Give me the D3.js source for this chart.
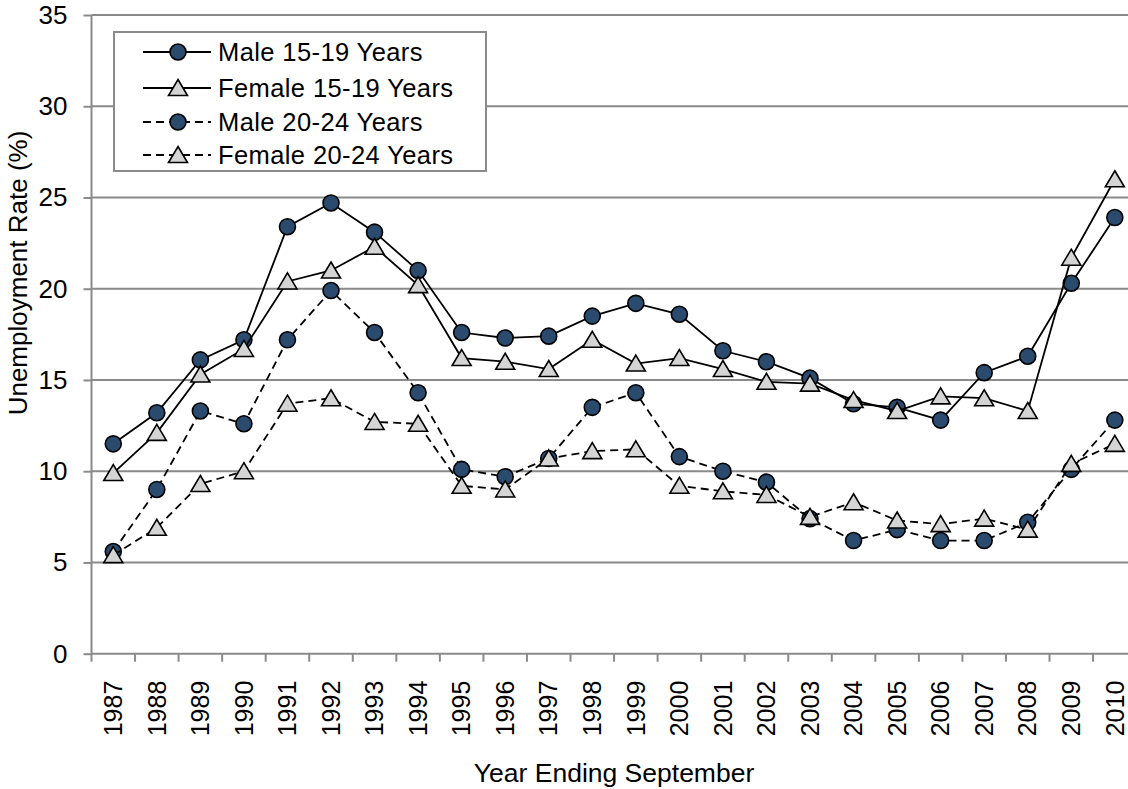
<!DOCTYPE html>
<html>
<head>
<meta charset="utf-8">
<script src="https://cdn.jsdelivr.net/npm/d3@7"></script>
<style>
  html, body { margin: 0; padding: 0; background: #fff; overflow: hidden; }
  svg { display: block; font-family: "Liberation Sans", Arial, sans-serif; }
</style>
</head>
<body>
<svg id="chart" width="1128" height="789"></svg>
<script>
// Unemployment rate (%) by sex and age group, year ending September
const years = ["1987","1988","1989","1990","1991","1992","1993","1994","1995","1996","1997","1998",
               "1999","2000","2001","2002","2003","2004","2005","2006","2007","2008","2009","2010"];
const male1519   = [11.5, 13.2, 16.1, 17.2, 23.4, 24.7, 23.1, 21.0, 17.6, 17.3, 17.4, 18.5,
                    19.2, 18.6, 16.6, 16.0, 15.1, 13.7, 13.5, 12.8, 15.4, 16.3, 20.3, 23.9];
const female1519 = [9.9, 12.1, 15.3, 16.7, 20.4, 21.0, 22.3, 20.2, 16.2, 16.0, 15.6, 17.2,
                    15.9, 16.2, 15.6, 14.9, 14.8, 13.9, 13.3, 14.1, 14.0, 13.3, 21.7, 26.0];
const male2024   = [5.6, 9.0, 13.3, 12.6, 17.2, 19.9, 17.6, 14.3, 10.1, 9.7, 10.7, 13.5,
                    14.3, 10.8, 10.0, 9.4, 7.4, 6.2, 6.8, 6.2, 6.2, 7.2, 10.1, 12.8];
const female2024 = [5.4, 6.9, 9.3, 10.0, 13.7, 14.0, 12.7, 12.6, 9.2, 9.0, 10.7, 11.1,
                    11.2, 9.2, 8.9, 8.7, 7.5, 8.3, 7.3, 7.1, 7.4, 6.8, 10.4, 11.5];
const yTicks = [0, 5, 10, 15, 20, 25, 30, 35];
const seriesNames = ["Male 15-19 Years", "Female 15-19 Years", "Male 20-24 Years", "Female 20-24 Years"];

const series = [
  { name: seriesNames[0], values: male1519,   marker: "circle",   dash: null },
  { name: seriesNames[1], values: female1519, marker: "triangle", dash: null },
  { name: seriesNames[2], values: male2024,   marker: "circle",   dash: "8,5" },
  { name: seriesNames[3], values: female2024, marker: "triangle", dash: "8,5" }
];

// The plot area runs a little past the right edge of the canvas
const plot = { left: 91.5, right: 1136.6, top: 15, bottom: 653.7 };
const gridColor = "#8a8a8a";
const circleFill = "#2a4a6e";
const triFill = "#d4d4d4";

const svg = d3.select("#chart");

const x = d3.scaleBand().domain(years).range([plot.left, plot.right]).padding(0);
const y = d3.scaleLinear().domain([0, 35]).range([plot.bottom, plot.top]);
const cx = d => x(d) + x.bandwidth() / 2;

// Horizontal gridlines
svg.append("g").selectAll("line")
  .data(yTicks.filter(v => v > 0))
  .join("line")
  .attr("x1", plot.left).attr("x2", plot.right)
  .attr("y1", d => y(d)).attr("y2", d => y(d))
  .attr("stroke", gridColor).attr("stroke-width", 2);

// Y axis with outside ticks
const yAxis = svg.append("g")
  .attr("transform", `translate(${plot.left},0)`)
  .call(d3.axisLeft(y).tickValues(yTicks).tickSize(8).tickPadding(16).tickSizeOuter(0));
yAxis.select(".domain").attr("stroke", gridColor).attr("stroke-width", 2)
  .attr("d", `M0,${plot.bottom}V${plot.top}`);
yAxis.selectAll(".tick line").attr("stroke", gridColor).attr("stroke-width", 2);
yAxis.selectAll(".tick text")
  .attr("font-size", 26).attr("fill", "#000")
  .attr("font-family", "'Liberation Sans', Arial, sans-serif");

// X axis: baseline, tick marks between categories, rotated labels
const xg = svg.append("g");
xg.append("line")
  .attr("x1", plot.left).attr("x2", plot.right)
  .attr("y1", plot.bottom).attr("y2", plot.bottom)
  .attr("stroke", gridColor).attr("stroke-width", 2);
const boundaries = years.map(d => x(d)).concat([x(years[years.length - 1]) + x.bandwidth()]);
xg.selectAll("line.tk")
  .data(boundaries)
  .join("line").attr("class", "tk")
  .attr("x1", d => d).attr("x2", d => d)
  .attr("y1", plot.bottom).attr("y2", plot.bottom + 8)
  .attr("stroke", gridColor).attr("stroke-width", 2);
xg.selectAll("text")
  .data(years)
  .join("text")
  .attr("transform", d => `translate(${cx(d)},${plot.bottom + 27}) rotate(-90)`)
  .attr("text-anchor", "end")
  .attr("dy", "0.35em")
  .attr("font-size", 25)
  .attr("fill", "#000")
  .text(d => d);

// Axis titles
svg.append("text")
  .attr("x", (plot.left + plot.right) / 2).attr("y", 782)
  .attr("text-anchor", "middle")
  .attr("font-size", 26.5).attr("fill", "#000")
  .text("Year Ending September");
svg.append("text")
  .attr("transform", "translate(27,273) rotate(-90)")
  .attr("text-anchor", "middle")
  .attr("font-size", 26).attr("fill", "#000")
  .text("Unemployment Rate (%)");

// Marker helpers
const triPath = "M0,-8.5L9.5,7.5L-9.5,7.5Z";
function drawMarker(g, type, px, py) {
  if (type === "circle") {
    g.append("circle").attr("cx", px).attr("cy", py).attr("r", 8)
      .attr("fill", circleFill).attr("stroke", "#000").attr("stroke-width", 1.6);
  } else {
    g.append("path").attr("d", triPath).attr("transform", `translate(${px},${py})`)
      .attr("fill", triFill).attr("stroke", "#000").attr("stroke-width", 1.6);
  }
}

// Series lines and markers
const line = d3.line().x((v, i) => cx(years[i])).y(v => y(v));
series.forEach(s => {
  const g = svg.append("g");
  g.append("path")
    .attr("d", line(s.values))
    .attr("fill", "none").attr("stroke", "#000").attr("stroke-width", 1.8)
    .attr("stroke-dasharray", s.dash);
  s.values.forEach((v, i) => drawMarker(g, s.marker, cx(years[i]), y(v)));
});

// Legend
const leg = svg.append("g");
leg.append("rect")
  .attr("x", 114).attr("y", 32).attr("width", 372).attr("height", 139)
  .attr("fill", "#fff").attr("stroke", gridColor).attr("stroke-width", 2);
const rowY = [52, 88, 122, 155];
series.forEach((s, i) => {
  const g = leg.append("g");
  g.append("line")
    .attr("x1", 143).attr("x2", 211).attr("y1", rowY[i]).attr("y2", rowY[i])
    .attr("stroke", "#000").attr("stroke-width", 1.8)
    .attr("stroke-dasharray", s.dash);
  drawMarker(g, s.marker, 178, rowY[i]);
  g.append("text")
    .attr("x", 218).attr("y", rowY[i]).attr("dy", "0.35em")
    .attr("font-size", 25.5).attr("letter-spacing", 0.4).attr("fill", "#000")
    .text(s.name);
});
</script>
</body>
</html>
